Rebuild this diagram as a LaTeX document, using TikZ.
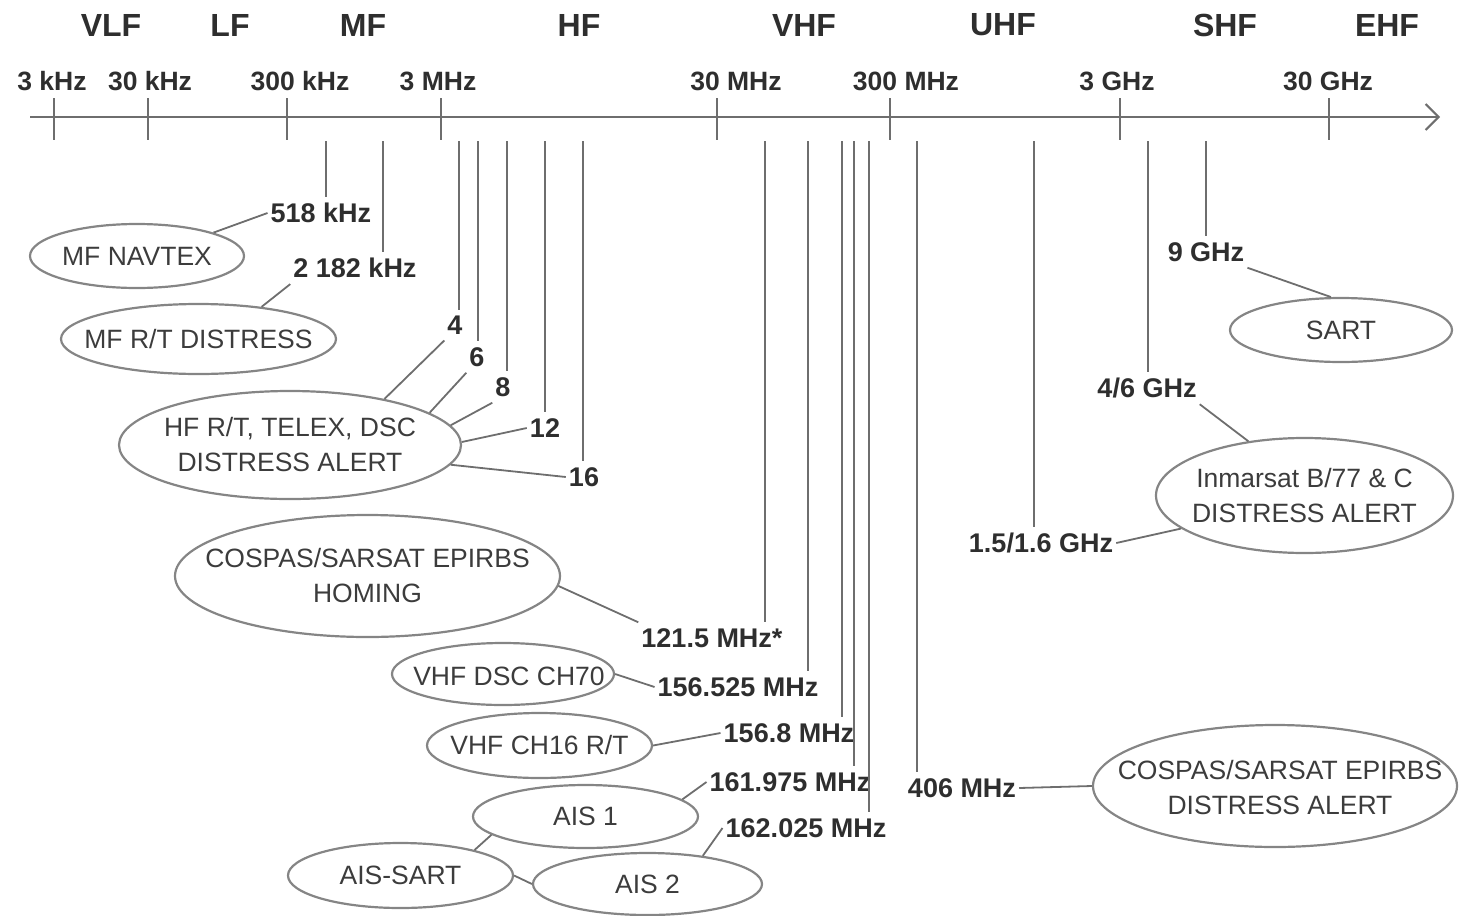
\documentclass[tikz,border=0pt]{standalone}
\usepackage{fontspec}
\setmainfont{Liberation Sans}
\usetikzlibrary{shapes.geometric,arrows.meta}
\definecolor{ink}{HTML}{2E2E2E}
\definecolor{ink2}{HTML}{3C3C3C}
\definecolor{ln}{HTML}{6E6E6E}
\definecolor{ov}{HTML}{858585}
\begin{document}
\begin{tikzpicture}[x=1pt,y=-1pt,
 oval/.style={ellipse, draw=ov, line width=2.2pt, inner sep=0pt},
 otext/.style={font=\fontsize{26.5}{35}\selectfont, text=ink2, align=center, inner sep=0pt},
 freq/.style={font=\bfseries\fontsize{27}{30}\selectfont, text=ink, inner xsep=3pt, inner ysep=6pt},
 band/.style={font=\bfseries\fontsize{32}{34}\selectfont, text=ink},
 ticklab/.style={font=\bfseries\fontsize{26.5}{30}\selectfont, text=ink},
 conn/.style={draw=ln, line width=1.8pt},
 vline/.style={draw=ln, line width=1.8pt},
 tickline/.style={draw=ln, line width=2pt}
]
\path[use as bounding box] (0,0) rectangle (1460,916);

% axis
\coordinate (ax0) at (30,117);
\coordinate (ax1) at (1440,117);
\draw[draw=ln, line width=2pt, -{Straight Barb[length=13pt,width=26pt]}] (ax0) -- (ax1);

% band labels
\node[band] (bVLF) at (111,25) {VLF};
\node[band] (bLF) at (230,25) {LF};
\node[band] (bMF) at (363,25) {MF};
\node[band] (bHF) at (579,25) {HF};
\node[band] (bVHF) at (804,25) {VHF};
\node[band] (bUHF) at (1003,25) {UHF};
\node[band] (bSHF) at (1225,25) {SHF};
\node[band] (bEHF) at (1387,25) {EHF};

% tick labels
\node[ticklab] (t1) at (52,81) {3 kHz};
\node[ticklab] (t2) at (150,81) {30 kHz};
\node[ticklab] (t3) at (300,81) {300 kHz};
\node[ticklab] (t4) at (438,81) {3 MHz};
\node[ticklab] (t5) at (736,81) {30 MHz};
\node[ticklab] (t6) at (906,81) {300 MHz};
\node[ticklab] (t7) at (1117,81) {3 GHz};
\node[ticklab] (t8) at (1328,81) {30 GHz};

% ticks
\coordinate (k1) at (54,98);
\coordinate (k2) at (148,98);
\coordinate (k3) at (287,98);
\coordinate (k4) at (441,98);
\coordinate (k5) at (717,98);
\coordinate (k6) at (890,98);
\coordinate (k7) at (1120,98);
\coordinate (k8) at (1329,98);
\foreach \k in {k1,k2,k3,k4,k5,k6,k7,k8}
  \draw[tickline] (\k) -- ++(0,42);

% frequency labels
\node[freq] (l518) at (321,213) {518 kHz};
\node[freq] (l2182) at (355,268) {2 182 kHz};
\node[freq] (l4) at (455,325) {4};
\node[freq] (l6) at (477,357) {6};
\node[freq] (l8) at (503,387) {8};
\node[freq] (l12) at (545,428) {12};
\node[freq] (l16) at (584,477) {16};
\node[freq] (l121) at (712,638) {121.5 MHz*};
\node[freq] (l156525) at (738,687) {156.525 MHz};
\node[freq] (l1568) at (789,733) {156.8 MHz};
\node[freq] (l161975) at (790,782) {161.975 MHz};
\node[freq] (l162025) at (806,828) {162.025 MHz};
\node[freq] (l406) at (962,788) {406 MHz};
\node[freq] (l15) at (1041,543) {1.5/1.6 GHz};
\node[freq] (l46) at (1147,388) {4/6 GHz};
\node[freq] (l9) at (1206,252) {9 GHz};

% vertical lines
\coordinate (v518) at (326,141);
\coordinate (v2182) at (383,141);
\coordinate (v4) at (459,141);
\coordinate (v6) at (478,141);
\coordinate (v8) at (507,141);
\coordinate (v12) at (545,141);
\coordinate (v16) at (583,141);
\coordinate (v121) at (765,141);
\coordinate (v156525) at (808,141);
\coordinate (v1568) at (842,141);
\coordinate (v161975) at (854,141);
\coordinate (v162025) at (869,141);
\coordinate (v406) at (917,141);
\coordinate (v15) at (1034,141);
\coordinate (v46) at (1148,141);
\coordinate (v9) at (1206,141);
\foreach \v in {518,2182,4,6,8,12,16,121,156525,1568,161975,162025,406,15,46,9}
  \draw[vline] (v\v) -- (v\v |- l\v.north);

% ellipses
\node[oval, minimum width=214pt, minimum height=64pt] (navtex) at (137,256) {};
\node[otext] (navtexT) at (navtex) {MF NAVTEX};
\node[oval, minimum width=275pt, minimum height=70pt] (mfrt) at (198.5,339) {};
\node[otext] (mfrtT) at (mfrt) {MF R/T DISTRESS};
\node[oval, minimum width=342pt, minimum height=108pt] (hf) at (290,445) {};
\node[otext] (hfT) at (hf) {HF R/T, TELEX, DSC\\DISTRESS ALERT};
\node[oval, minimum width=385pt, minimum height=122pt] (homing) at (367.5,576) {};
\node[otext] (homingT) at (homing) {COSPAS/SARSAT EPIRBS\\HOMING};
\node[oval, minimum width=222pt, minimum height=62pt] (ch70) at (503,674) {};
\node[otext] (ch70T) at (509,676) {VHF DSC CH70};
\node[oval, minimum width=225pt, minimum height=65pt] (ch16) at (539.5,745.5) {};
\node[otext] (ch16T) at (ch16) {VHF CH16 R/T};
\node[oval, minimum width=225pt, minimum height=63pt] (ais1) at (585.5,816.5) {};
\node[otext] (ais1T) at (ais1) {AIS 1};
\node[oval, minimum width=225pt, minimum height=65pt] (aissart) at (400.5,875.5) {};
\node[otext] (aissartT) at (aissart) {AIS-SART};
\node[oval, minimum width=229pt, minimum height=62pt] (ais2) at (647.5,884) {};
\node[otext] (ais2T) at (ais2) {AIS 2};
\node[oval, minimum width=222pt, minimum height=64pt] (sart) at (1341,330) {};
\node[otext] (sartT) at (sart) {SART};
\node[oval, minimum width=297pt, minimum height=115pt] (inm) at (1304.5,495.5) {};
\node[otext] (inmT) at (inm) {Inmarsat B/77 \& C\\DISTRESS ALERT};
\node[oval, minimum width=364pt, minimum height=122pt] (cosda) at (1275,786) {};
\node[otext] (cosdaT) at (1280,788) {COSPAS/SARSAT EPIRBS\\DISTRESS ALERT};

% connectors
\draw[conn] (navtex.17) -- (l518.west);
\draw[conn] (mfrt.27) -- (l2182.south west);
\draw[conn] (hf.26) -- (l4.south west);
\draw[conn] (hf.13) -- (l6.south west);
\draw[conn] (hf.7) -- (l8.south west);
\draw[conn] (hf.1) -- (l12.west);
\draw[conn] (hf.-7) -- (l16.west);
\draw[conn] (homing.-3) -- (l121.north west);
\draw[conn] (ch70.east) -- (l156525.west);
\draw[conn] (ch16.east) -- (l1568.west);
\draw[conn] (ais1.10) -- (l161975.west);
\draw[conn] (ais2.27) -- (l162025.west);
\draw[conn] (aissart.19) -- (ais1.191);
\draw[conn] (aissart.east) -- (ais2.west);
\draw[conn] (l9.south east) -- (sart.107);
\draw[conn] (l46.south east) -- (inm.136);
\draw[conn] (l15.east) -- (inm.195);
\draw[conn] (l406.east) -- (cosda.west);
\end{tikzpicture}
\end{document}
